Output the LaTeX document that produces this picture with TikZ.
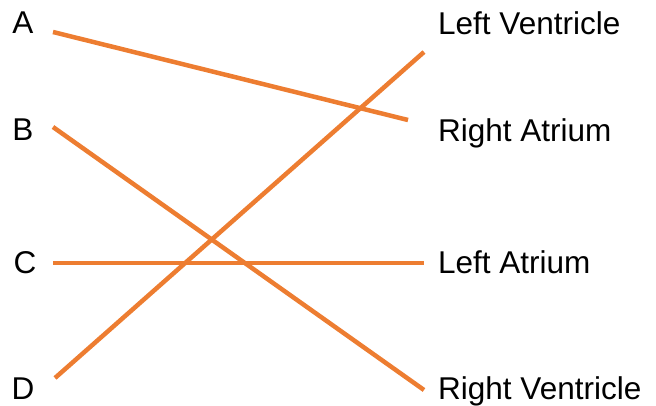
\documentclass[tikz,border=0pt]{standalone}
\usepackage{fontspec}
\setmainfont{Liberation Sans}
\definecolor{lineorange}{RGB}{237,125,49}

\begin{document}
\begin{tikzpicture}[x=1pt,y=-1pt,
    match/.style={draw=lineorange, line width=4.5pt},
    lbl/.style={inner sep=0pt, font=\fontsize{31.5}{36}\selectfont}]
    \useasboundingbox (0,0) rectangle (656,406);

    % left labels
    \node[lbl, anchor=base] (la) at (23,34) {A};
    \node[lbl, anchor=base] (lb) at (23,141) {B};
    \node[lbl, anchor=base] (lc) at (25,273) {C};
    \node[lbl, anchor=base] (ld) at (23,399) {D};

    % right labels
    \node[lbl, anchor=base west] (lv) at (438,35) {Left Ventricle};
    \node[lbl, anchor=base west] (ra) at (438,142) {Right Atrium};
    \node[lbl, anchor=base west] (lat) at (438,273) {Left Atrium};
    \node[lbl, anchor=base west] (rv) at (438,399) {Right Ventricle};

    % line ends
    \coordinate (a0) at (53,32);
    \coordinate (b0) at (53,127);
    \coordinate (c0) at (53,263);
    \coordinate (d0) at (55,378);
    \coordinate (a1) at (408,120);
    \coordinate (b1) at (424,390);
    \coordinate (c1) at (424,263);
    \coordinate (d1) at (424,52);

    % matches
    \draw[match] (a0) -- (a1);
    \draw[match] (b0) -- (b1);
    \draw[match] (c0) -- (c1);
    \draw[match] (d0) -- (d1);
\end{tikzpicture}
\end{document}
